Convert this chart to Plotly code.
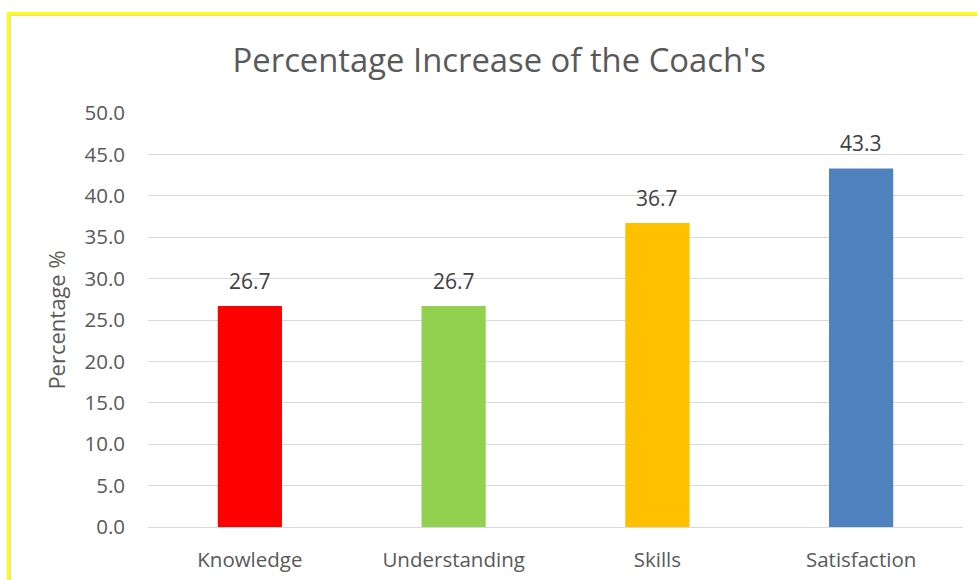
import plotly.graph_objects as go

categories = ["Knowledge", "Understanding", "Skills", "Satisfaction"]
values = [26.7, 26.7, 36.7, 43.3]
bar_colors = ["#FF0000", "#92D050", "#FFC000", "#4F81BD"]
y_ticks = [0, 5, 10, 15, 20, 25, 30, 35, 40, 45, 50]
y_tick_labels = [f"{v:.1f}" for v in y_ticks]

FONT = "'Open Sans', sans-serif"

fig = go.Figure()
fig.add_trace(go.Bar(
    x=categories, y=values,
    marker=dict(color=bar_colors, line=dict(width=0)),
    width=0.315,
    hoverinfo="x+y",
))

for c, v in zip(categories, values):
    fig.add_annotation(x=c, y=v, text=f"{v:.1f}", showarrow=False,
                       yanchor="bottom", yshift=9,
                       font=dict(family=FONT, size=21, color="#404040"))

L, R, T, B = 148, 14, 113, 53
W, H = 977, 580
pw, ph = W - L - R, H - T - B

def px(x):
    return (x - L) / pw

def py(y):
    return (H - B - y) / ph

fig.add_shape(type="rect", xref="paper", yref="paper",
              x0=px(8.5), x1=px(1000), y0=py(600), y1=py(13.5),
              line=dict(color="#FFFF00", width=3), fillcolor="rgba(0,0,0,0)", layer="below")
fig.add_shape(type="rect", xref="paper", yref="paper",
              x0=px(10.5), x1=px(1000), y0=py(600), y1=py(15.5),
              line=dict(color="#D9D9D9", width=1), fillcolor="rgba(0,0,0,0)", layer="below")

fig.update_layout(
    width=W, height=H,
    margin=dict(l=L, r=R, t=T, b=B),
    paper_bgcolor="white", plot_bgcolor="white",
    showlegend=False,
    title=dict(text="Percentage Increase of the Coach's", x=0.511, xref="container",
               xanchor="center", y=1 - 61 / H, yref="container", yanchor="middle",
               font=dict(family=FONT, size=32.8, color="#595959")),
    font=dict(family=FONT, color="#595959"),
    bargap=0.685,
)
fig.update_xaxes(showgrid=False, showline=False, ticks="", zeroline=False,
                 automargin=False,
                 tickfont=dict(family=FONT, size=20.5, color="#595959"),
                 ticklabelstandoff=18)
fig.update_yaxes(range=[0, 50], tickvals=y_ticks, ticktext=y_tick_labels,
                 automargin=False,
                 showgrid=True, gridcolor="#D9D9D9", gridwidth=1.3,
                 zeroline=True, zerolinecolor="#D9D9D9", zerolinewidth=1.3,
                 showline=False, ticks="",
                 tickfont=dict(family=FONT, size=20.5, color="#595959"),
                 ticklabelstandoff=22,
                 title=dict(text="Percentage %", standoff=12,
                            font=dict(family=FONT, size=22, color="#595959")))

fig.write_html("out.html", config={"displayModeBar": False},
               post_script="document.body.style.margin='0px';")
